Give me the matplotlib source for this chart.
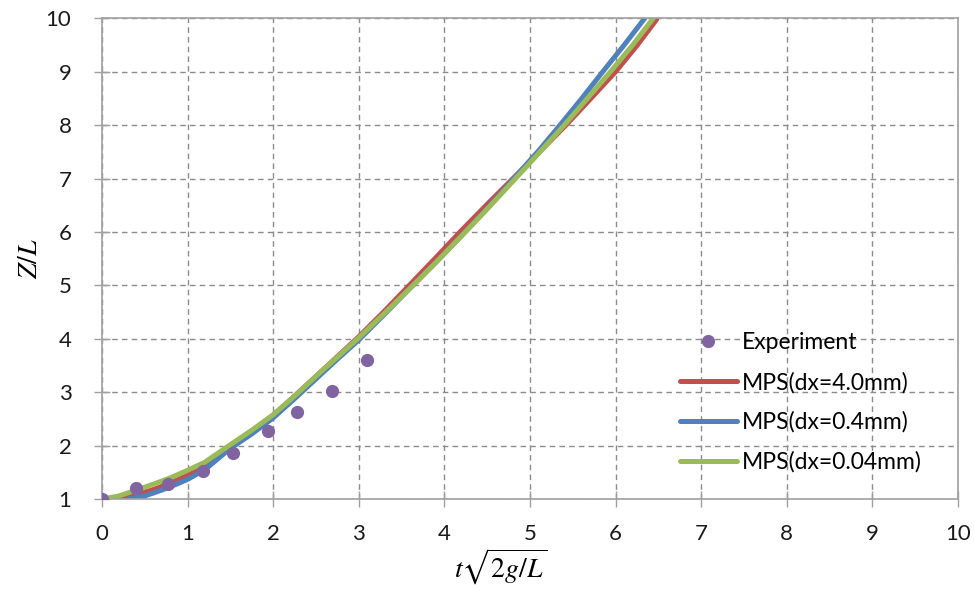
import matplotlib
matplotlib.use("Agg")
import matplotlib.pyplot as plt

plt.rcParams['font.family'] = ['Lato', 'DejaVu Sans']
plt.rcParams['mathtext.fontset'] = 'stix'

# measured drop height vs. dimensionless time
exp_t = [0.0, 0.40, 0.77, 1.18, 1.53, 1.94, 2.28, 2.69, 3.10]
exp_z = [1.0, 1.20, 1.28, 1.52, 1.86, 2.27, 2.63, 3.02, 3.61]

# MPS runs at three particle spacings
t_40 = [0.2, 0.4, 0.6, 0.8, 1.0, 1.2, 1.5, 1.75, 2.0, 2.25, 2.5, 2.75, 3.0, 3.3,
        3.6, 3.9, 4.2, 4.5, 4.8, 5.1, 5.42, 5.7, 6.0, 6.25, 6.48]
z_40 = [1.0, 1.08, 1.18, 1.30, 1.45, 1.61, 1.97, 2.26, 2.57, 2.93, 3.30, 3.67, 4.04, 4.52,
        5.02, 5.52, 6.03, 6.52, 7.0, 7.48, 8.0, 8.48, 9.0, 9.49, 9.98]

t_04 = [0.3, 0.5, 0.7, 0.9, 1.0, 1.2, 1.5, 1.75, 2.0, 2.25, 2.5, 2.75, 3.0, 3.3,
        3.6, 3.9, 4.2, 4.5, 4.8, 5.1, 5.35, 5.6, 5.84, 6.1, 6.34]
z_04 = [1.0, 1.06, 1.17, 1.30, 1.37, 1.55, 1.95, 2.22, 2.52, 2.88, 3.25, 3.62, 3.98, 4.46,
        4.95, 5.43, 5.93, 6.44, 6.98, 7.52, 8.0, 8.49, 8.98, 9.50, 10.0]

t_004 = [0.0, 0.2, 0.4, 0.6, 0.8, 1.0, 1.2, 1.5, 1.75, 2.0, 2.25, 2.5, 2.75, 3.0,
         3.3, 3.62, 3.9, 4.22, 4.5, 4.83, 5.1, 5.4, 5.67, 5.94, 6.2, 6.44]
z_004 = [1.0, 1.06, 1.17, 1.28, 1.40, 1.54, 1.69, 2.02, 2.29, 2.58, 2.93, 3.30, 3.66, 4.02,
         4.48, 4.98, 5.43, 5.96, 6.43, 7.0, 7.47, 8.0, 8.50, 9.0, 9.5, 10.0]

fig = plt.figure(figsize=(9.74, 5.90), dpi=100)
ax = fig.add_axes([0.1047, 0.154, 0.8789, 0.815])

ax.plot(exp_t, exp_z, 'o', color='#8064A2', ms=9.5, mec='none', label='Experiment', zorder=5)
ax.plot(t_40, z_40, color='#C0504D', lw=3.6, label='MPS(dx=4.0mm)', solid_capstyle='round')
ax.plot(t_04, z_04, color='#4F81BD', lw=3.6, label='MPS(dx=0.4mm)', solid_capstyle='round')
ax.plot(t_004, z_004, color='#9BBB59', lw=3.6, label='MPS(dx=0.04mm)', solid_capstyle='round')

ax.set_xlim(0, 10)
ax.set_ylim(1, 10)
ax.set_xticks(range(0, 11))
ax.set_yticks(range(1, 11))

ax.grid(True, color='#8c8c8c', linestyle=(0, (4, 3)), linewidth=1.0)
ax.set_axisbelow(True)
for s in ax.spines.values():
    s.set_color('#a0a0a0')
    s.set_linewidth(1.2)

ax.tick_params(axis='both', direction='inout', length=12, width=1.0,
               color='#a0a0a0', labelsize=16, labelcolor='#1a1a1a')
ax.tick_params(axis='y', pad=16)
ax.tick_params(axis='x', pad=12)

ax.set_xlabel(r'$t\sqrt{2g/L}$', fontsize=20)
ax.set_ylabel(r'$Z/L$', fontsize=20)
ax.xaxis.set_label_coords(0.466, -0.10)
ax.yaxis.set_label_coords(-0.07, 0.5)

leg = ax.legend(loc='lower right', bbox_to_anchor=(0.988, 0.0), frameon=False,
                fontsize=16.5, handlelength=2.5, handletextpad=0.2,
                labelspacing=0.8, borderaxespad=0.75)

fig.savefig('out.png', dpi=100)
